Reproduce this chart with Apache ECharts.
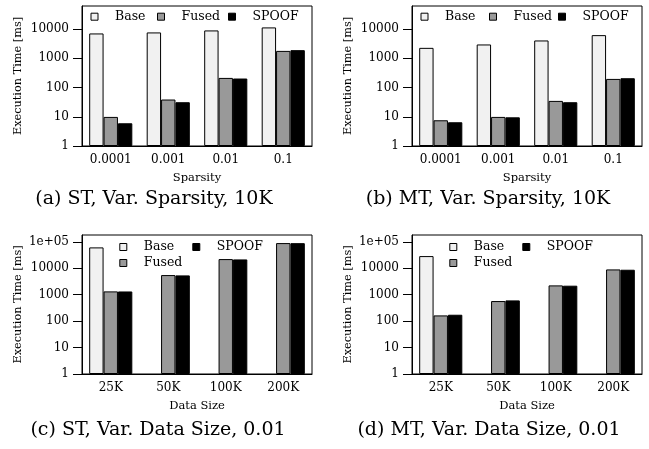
<!DOCTYPE html>
<html><head><meta charset="utf-8">
<script src="https://cdn.jsdelivr.net/npm/echarts@6/dist/echarts.min.js"></script>
<style>html,body{margin:0;padding:0;background:#fff}#c{width:649px;height:449px}</style>
</head><body><div id="c"></div>
<script>
// ---- data ----
const sparsityCats = ['0.0001', '0.001', '0.01', '0.1'];
const sizeCats = ['25K', '50K', '100K', '200K'];
const seriesNames = ['Base', 'Fused', 'SPOOF'];

const stSparsityBase  = [7130, 7720, 9040, 11460];
const stSparsityFused = [9.9, 39, 214, 1800];
const stSparsitySpoof = [6.0, 31.5, 204, 1910];

const mtSparsityBase  = [2290, 2990, 4100, 6240];
const mtSparsityFused = [7.6, 9.9, 35, 198];
const mtSparsitySpoof = [6.5, 9.6, 31.5, 209];

const stSizeBase  = [61200, null, null, null];
const stSizeFused = [1330, 5500, 22100, 89000];
const stSizeSpoof = [1320, 5350, 21500, 88500];

const mtSizeBase  = [28700, null, null, null];
const mtSizeFused = [164, 573, 2240, 9000];
const mtSizeSpoof = [174, 607, 2180, 8740];

const ticksTop = [1, 10, 100, 1000, 10000];
const tickLabelsTop = ['1', '10', '100', '1000', '10000'];
const ticksBottom = [1, 10, 100, 1000, 10000, 100000];
const tickLabelsBottom = ['1', '10', '100', '1000', '10000', '1e+05'];

const captions = [
  '(a) ST, Var. Sparsity, 10K',
  '(b) MT, Var. Sparsity, 10K',
  '(c) ST, Var. Data Size, 0.01',
  '(d) MT, Var. Data Size, 0.01'
];
const yTitle = 'Execution Time [ms]';

// ---- layout / style ----
const FONT = 'DejaVu Serif';
const colors = { Base: '#f1f1f1', Fused: '#999999', SPOOF: '#000000' };

const panels = [
  { grid: { left: 82, top: 6, width: 230, height: 140 }, yMax: 62000,
    cats: sparsityCats, values: [stSparsityBase, stSparsityFused, stSparsitySpoof],
    ticks: ticksTop, labels: tickLabelsTop, xName: 'Sparsity', cap: [154, 199],
    leg: [['Base', 90.5, 16.7], ['Fused', 157, 16.7], ['SPOOF', 228, 16.7]] },
  { grid: { left: 412, top: 6, width: 230, height: 140 }, yMax: 62000,
    cats: sparsityCats, values: [mtSparsityBase, mtSparsityFused, mtSparsitySpoof],
    ticks: ticksTop, labels: tickLabelsTop, xName: 'Sparsity', cap: [488, 199],
    leg: [['Base', 420.5, 16.7], ['Fused', 489, 16.7], ['SPOOF', 558, 16.7]] },
  { grid: { left: 82, top: 235, width: 230, height: 139 }, yMax: 180000,
    cats: sizeCats, values: [stSizeBase, stSizeFused, stSizeSpoof],
    ticks: ticksBottom, labels: tickLabelsBottom, xName: 'Data Size', cap: [158, 430],
    leg: [['Base', 119.3, 247], ['Fused', 119.3, 263], ['SPOOF', 192.3, 247]] },
  { grid: { left: 412, top: 235, width: 230, height: 139 }, yMax: 180000,
    cats: sizeCats, values: [mtSizeBase, mtSizeFused, mtSizeSpoof],
    ticks: ticksBottom, labels: tickLabelsBottom, xName: 'Data Size', cap: [489, 430],
    leg: [['Base', 449.3, 247], ['Fused', 449.3, 263], ['SPOOF', 522.3, 247]] }
];

const option = { animation: false, grid: [], xAxis: [], yAxis: [], series: [], legend: [], graphic: [] };

panels.forEach((p, i) => {
  option.grid.push(Object.assign({ show: true, borderColor: '#000', borderWidth: 1,
    backgroundColor: 'transparent', containLabel: false, outerBoundsMode: 'none' }, p.grid));
  option.xAxis.push({
    type: 'category', gridIndex: i, data: p.cats,
    axisLine: { show: true, lineStyle: { color: '#000', width: 1 } },
    axisTick: { show: false },
    axisLabel: { interval: 0, margin: 8, fontFamily: FONT, fontSize: 12, color: '#000' },
    name: p.xName, nameLocation: 'middle', nameGap: 26,
    nameTextStyle: { fontFamily: FONT, fontSize: 11.5, color: '#000' },
    splitLine: { show: false }
  });
  option.yAxis.push({
    type: 'log', logBase: 10, gridIndex: i, min: 1, max: p.yMax,
    axisLine: { show: true, lineStyle: { color: '#000', width: 1 } },
    axisTick: { show: true, inside: false, length: 9, customValues: p.ticks, lineStyle: { color: '#000' } },
    axisLabel: {
      customValues: p.ticks, margin: 13, fontFamily: FONT, fontSize: 12, color: '#000',
      formatter: (v) => {
        const k = p.ticks.findIndex(t => Math.abs(t - v) / t < 1e-6);
        return k >= 0 ? p.labels[k] : '';
      }
    },
    splitLine: { show: false },
    name: yTitle, nameLocation: 'middle', nameGap: 58,
    nameTextStyle: { fontFamily: FONT, fontSize: 11.3, color: '#000' }
  });
  seriesNames.forEach((n, s) => {
    option.series.push({
      type: 'bar', name: n, xAxisIndex: i, yAxisIndex: i, data: p.values[s],
      barGap: '0%', barCategoryGap: '25%', silent: true,
      itemStyle: { color: colors[n], borderColor: '#000', borderWidth: 1 }
    });
  });
  p.leg.forEach(([n, x, cy]) => {
    option.legend.push({
      data: [n], left: x, top: cy - 7, padding: 0, itemWidth: 7, itemHeight: 7,
      icon: 'rect', selectedMode: false,
      itemStyle: { borderColor: '#000', borderWidth: 1 },
      textStyle: { fontFamily: FONT, fontSize: 12.5, color: '#000', lineHeight: 14, padding: [0, 0, 0, 12] }
    });
  });
  option.graphic.push({
    type: 'text', x: p.cap[0], y: p.cap[1],
    style: { text: captions[i], fontFamily: FONT, fontSize: 19, fill: '#000',
      textAlign: 'center', textVerticalAlign: 'middle' }
  });
});

const chart = echarts.init(document.getElementById('c'), null, { renderer: 'canvas' });
chart.setOption(option);
</script>
</body></html>
